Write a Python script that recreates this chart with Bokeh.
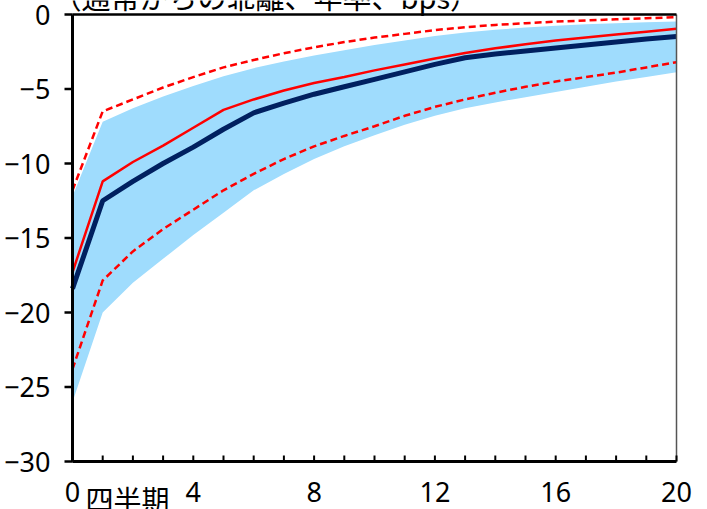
from bokeh.plotting import figure
from bokeh.models import Range1d, ColumnDataSource
from bokeh.core.properties import value
from bokeh.embed import file_html
from bokeh.resources import INLINE

# ---- data ----
quarters = list(range(21))
center = [-18.4, -12.5, -11.2, -10.0, -8.9, -7.7, -6.6, -5.95, -5.35, -4.85, -4.35,
          -3.85, -3.35, -2.9, -2.65, -2.45, -2.25, -2.05, -1.85, -1.65, -1.48]
red_solid = [-17.3, -11.2, -9.9, -8.8, -7.6, -6.4, -5.7, -5.1, -4.6, -4.2, -3.75,
             -3.35, -2.95, -2.58, -2.27, -2.0, -1.75, -1.55, -1.35, -1.15, -0.95]
red_upper = [-11.8, -6.5, -5.7, -4.9, -4.2, -3.55, -3.05, -2.6, -2.2, -1.85, -1.55,
             -1.3, -1.05, -0.85, -0.7, -0.58, -0.48, -0.4, -0.32, -0.25, -0.18]
red_lower = [-23.8, -17.85, -15.9, -14.4, -13.1, -11.8, -10.7, -9.7, -8.85, -8.15, -7.5,
             -6.8, -6.2, -5.7, -5.25, -4.85, -4.5, -4.2, -3.9, -3.55, -3.2]
band_upper = [-12.2, -7.2, -6.3, -5.5, -4.8, -4.15, -3.6, -3.15, -2.75, -2.4, -2.05,
              -1.75, -1.45, -1.2, -1.02, -0.88, -0.76, -0.66, -0.58, -0.52, -0.47]
band_lower = [-26.0, -20.0, -18.0, -16.4, -14.8, -13.3, -11.8, -10.7, -9.7, -8.85, -8.1,
              -7.4, -6.8, -6.3, -5.9, -5.55, -5.2, -4.85, -4.5, -4.2, -3.87]

y_ticks = [-30, -25, -20, -15, -10, -5, 0]
y_tick_labels = ["−30", "−25", "−20", "−15", "−10", "−5", "0"]
x_ticks = [0, 4, 8, 12, 16, 20]
x_tick_labels = ["0", "4", "8", "12", "16", "20"]
title_text = "（通常からの乖離、年率、bps）"
x_unit_text = "四半期"

NUM_FONT = "Noto Sans"
CJK_FONT = "Noto Sans CJK JP"

# ---- layout (pixels) ----
W, H = 700, 509
PLOT_L, PLOT_R, PLOT_T, PLOT_B = 72, 676, 14, 461   # where the axes box sits
X0, X1 = 0, 20
Y0, Y1 = -30, 0
PXX = (PLOT_R - PLOT_L) / (X1 - X0)   # px per quarter
PXY = (PLOT_B - PLOT_T) / (Y1 - Y0)   # px per bp

def dx(px):
    return px / PXX

def dy(px):
    return px / PXY

# the frame covers the whole canvas; the axes box is drawn inside it
p = figure(width=W, height=H,
           x_range=Range1d(X0 - dx(PLOT_L), X1 + dx(W - PLOT_R)),
           y_range=Range1d(Y0 - dy(H - PLOT_B), Y1 + dy(PLOT_T)),
           x_axis_type=None, y_axis_type=None,
           output_backend="svg", toolbar_location=None,
           min_border_left=0, min_border_right=0,
           min_border_top=0, min_border_bottom=0)
p.outline_line_color = None
p.grid.visible = False
p.background_fill_color = "white"
p.border_fill_color = "white"

# band
p.varea(x=quarters, y1=band_lower, y2=band_upper, fill_color="#9fdcfd", fill_alpha=1.0)

# lines
p.line(quarters, red_upper, line_color="#ff0000", line_width=2.5, line_dash="7 4")
p.line(quarters, red_lower, line_color="#ff0000", line_width=2.5, line_dash="7 4")
p.line(quarters, red_solid, line_color="#ff0000", line_width=2.5)
p.line(quarters, center, line_color="#002060", line_width=5)

# right border (gray) and top border (black)
p.segment(x0=[X1], y0=[Y0], x1=[X1], y1=[Y1], line_color="#555555", line_width=1.5)
p.segment(x0=[X0], y0=[Y1], x1=[X1], y1=[Y1], line_color="black", line_width=2.5)

# x axis: line + inward ticks at every quarter
p.segment(x0=quarters, y0=[Y0] * len(quarters), x1=quarters,
          y1=[Y0 + dy(6)] * len(quarters), line_color="black", line_width=2)
p.segment(x0=[X0], y0=[Y0], x1=[X1], y1=[Y0], line_color="black", line_width=3)

# y axis: line + outward ticks
p.segment(x0=[X0 - dx(8)] * len(y_ticks), y0=y_ticks, x1=[X0] * len(y_ticks),
          y1=y_ticks, line_color="black", line_width=2.5)
p.segment(x0=[X0], y0=[Y0], x1=[X0], y1=[Y1], line_color="black", line_width=3)

# y tick labels
ylab = ColumnDataSource(data=dict(x=[X0 - dx(22)] * len(y_ticks), y=y_ticks,
                                  text=y_tick_labels))
p.text(x="x", y="y", text="text", source=ylab, text_font=value(NUM_FONT),
       text_font_size="27px", text_align="right", text_baseline="middle",
       text_color="black")

# x tick labels
xlab = ColumnDataSource(data=dict(x=x_ticks, y=[Y0 - dy(30)] * len(x_ticks),
                                  text=x_tick_labels))
p.text(x="x", y="y", text="text", source=xlab, text_font=value(NUM_FONT),
       text_font_size="27px", text_align="center", text_baseline="alphabetic",
       text_color="black")

# unit label next to 0 on the x axis
p.text(x=[X0 + dx(13)], y=[Y0 - dy(37)], text=[x_unit_text],
       text_font=value(CJK_FONT), text_font_size="28px",
       text_align="left", text_baseline="alphabetic", text_color="black")

# title (mostly cut off at top, as in the reference)
p.text(x=[X0 - dx(20)], y=[Y1 + dy(19)], text=[title_text],
       text_font=value(CJK_FONT), text_font_size="29px",
       text_align="left", text_baseline="alphabetic", text_color="black")

open("out.html", "w").write(file_html(p, INLINE))
